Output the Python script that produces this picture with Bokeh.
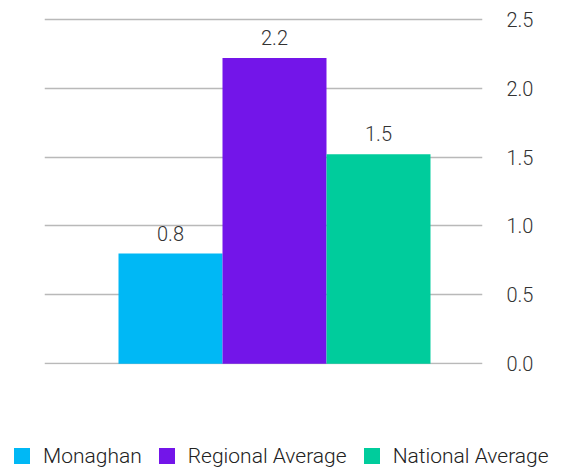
from bokeh.plotting import figure
from bokeh.layouts import column
from bokeh.models import (ColumnDataSource, Range1d, FixedTicker, CustomJSTickFormatter,
                          LabelSet, Div)
from bokeh.core.properties import value
from bokeh.embed import file_html
from bokeh.resources import INLINE

# ---- data ----
categories = ["Monaghan", "Regional Average", "National Average"]
values = [0.80, 2.22, 1.52]
colors = ["#00B8F5", "#7315E9", "#00CC9C"]
y_ticks = [0.0, 0.5, 1.0, 1.5, 2.0, 2.5]

labels = [f"{v:.1f}" for v in values]
xpos = list(range(len(categories)))

FONT = "'Roboto Light', Roboto"
TEXT_COLOR = "#333333"

src = ColumnDataSource(dict(x=xpos, top=values, color=colors, name=categories, label=labels))

# ---- main chart ----
p = figure(width=566, height=430, output_backend="svg", toolbar_location=None,
           x_range=Range1d(-1.2115, 3.0), y_range=Range1d(-0.006, 2.55),
           y_axis_location="right",
           min_border_left=44, min_border_right=84, min_border_top=12, min_border_bottom=66)
p.outline_line_color = None
p.background_fill_color = "white"
p.border_fill_color = "white"

bars = p.vbar(x="x", top="top", bottom=0, width=1.0, source=src, color="color", line_color=None)

lbls = LabelSet(x="x", y="top", text="label", source=src, text_align="center",
                text_baseline="alphabetic", y_offset=13,
                text_font=value(FONT), text_font_size=value("20px"), text_color=value(TEXT_COLOR))
p.add_layout(lbls)

p.xaxis.visible = False
p.xgrid.visible = False

yax = p.yaxis[0]
yax.ticker = FixedTicker(ticks=y_ticks)
yax.formatter = CustomJSTickFormatter(code="return tick.toFixed(1);")
yax.axis_line_color = None
yax.major_tick_line_color = None
yax.minor_tick_line_color = None
yax.major_label_standoff = 18
yax.major_label_text_font = FONT
yax.major_label_text_font_size = "20px"
yax.major_label_text_color = TEXT_COLOR

p.ygrid.ticker = FixedTicker(ticks=y_ticks)
p.ygrid.grid_line_color = "#b9b9b9"
p.ygrid.grid_line_width = 1.5

# ---- legend strip (built from the same categories / colours) ----
parts = []
for i, (name, col) in enumerate(zip(categories, colors)):
    gap = "14px" if i == 0 else "17px"
    parts.append(
        f'<span style="display:inline-block;width:16px;height:16px;background:{col};'
        f'margin-left:{gap};margin-right:13px;"></span>'
        f'<span style="line-height:16px;">{name}</span>'
    )
legend_html = (
    f'<div style="display:flex;align-items:center;height:16px;margin-top:18px;'
    f'font-family:{FONT};font-size:21px;color:#222222;white-space:nowrap;">'
    + "".join(parts) + "</div>"
)
lg = Div(text=legend_html, width=566, height=41, margin=0)

layout = column(p, lg, spacing=0)
open("out.html", "w").write(file_html(layout, INLINE))
